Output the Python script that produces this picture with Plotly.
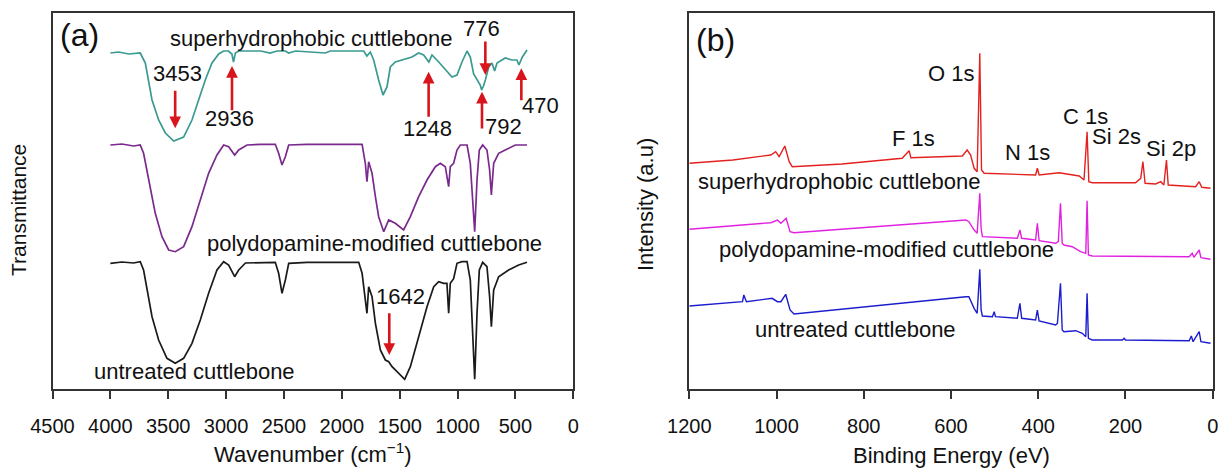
import plotly.graph_objects as go

# ---------------- Panel (a): FTIR spectra (wavenumber, transmittance a.u.) ----------------
sh_wn = [4000, 3930, 3840, 3742, 3698, 3669, 3640, 3583, 3525, 3453, 3367, 3295, 3237, 3180, 3122,
         3064, 3021, 2980, 2950, 2936, 2920, 2890, 2700, 2620, 2560, 2488, 2459, 2400, 2143, 2100,
         1811, 1783, 1754, 1725, 1682, 1644, 1610, 1581, 1538, 1480, 1394, 1336, 1293, 1248, 1221,
         1163, 1106, 1048, 1005, 962, 918, 890, 861, 832, 804, 792, 776, 760, 731, 703, 680, 659,
         588, 530, 487, 470, 440, 400]
sh_T = [336, 337, 335, 336, 326, 309, 289, 269, 256, 248, 252, 269, 289, 309, 326,
        335, 338, 338, 335, 327, 336, 338, 338, 336, 338, 338, 336, 338, 336, 338,
        338, 333, 337, 329, 309, 294, 302, 322, 327, 329, 332, 336, 334, 327, 334,
        327, 319, 312, 314, 327, 338, 332, 315, 309, 304, 299, 303, 309, 322, 326, 318, 326,
        331, 329, 329, 324, 332, 339]

pd_wn = [4000, 3900, 3800, 3742, 3713, 3684, 3655, 3612, 3554, 3496, 3439, 3367, 3295, 3223, 3151,
         3079, 3021, 2978, 2926, 2891, 2819, 2700, 2575, 2546, 2517, 2488, 2459, 2300, 1825, 1797,
         1783, 1768, 1739, 1710, 1682, 1638, 1595, 1538, 1466, 1408, 1336, 1264, 1192, 1149, 1106,
         1077, 1063, 1034, 1005, 976, 918, 890, 869, 852, 832, 812, 783, 746, 723, 708, 688, 645,
         588, 501, 400]
pd_T = [244, 245, 243, 244, 235.7, 219, 199, 175.7, 152.3, 139, 137.3, 142.3, 162.3, 189, 215.7,
        234, 244, 242.3, 234, 239, 244, 244.7, 244.7, 235.7, 224, 232.3, 244, 244.7, 244.7, 225.7,
        207.3, 227.3, 215.7, 192.3, 172.3, 157.3, 169, 165.7, 159, 172.3, 192.3, 209, 222.3, 225.7, 222.3,
        202.3, 222.3, 225.7, 239, 244, 244, 225.7, 192.3, 157.3, 209, 239, 244, 239, 219, 194, 225.7, 235.7,
        239, 244, 244]

un_wn = [4000, 3900, 3800, 3742, 3713, 3684, 3640, 3583, 3511, 3439, 3367, 3295, 3223, 3151, 3079,
         3021, 2978, 2926, 2891, 2833, 2700, 2575, 2546, 2517, 2488, 2459, 2300, 1854, 1825, 1797,
         1783, 1768, 1739, 1710, 1667, 1624, 1595, 1566, 1509, 1457, 1408, 1336, 1264, 1206, 1163,
         1120, 1092, 1077, 1063, 1034, 1005, 962, 918, 890, 869, 852, 832, 812, 783, 746, 723, 708,
         688, 645, 559, 472, 400]
un_T = [125.7, 127, 126, 127.3, 119, 99, 72.3, 49, 30.7, 25.7, 30.7, 45.7, 69, 95.7, 119,
        127.3, 124, 112.3, 119, 126, 126.7, 126.7, 115.7, 95.7, 109, 125.7, 126.7, 126.7, 115.7, 92.3,
        75.7, 102.3, 92.3, 65.7, 39, 29, 27.3, 22.3, 15.7, 9.7, 22.3, 52.3, 82.3, 102.3, 107.3,
        105.7, 105.7, 75.7, 105.7, 110.3, 125.7, 127.3, 127.3, 109, 59, 9.7, 75.7, 119, 126.7, 122.3, 92.3, 62.3,
        99, 112.3, 119, 124, 126.7]

# ---------------- Panel (b): XPS survey spectra (binding energy, intensity a.u.) ----------------
sh_be = [1200, 1100, 1013, 1002, 994, 981, 971, 964, 850, 712, 696, 692, 574, 563, 555, 547, 540,
         534, 530, 524, 406, 402, 398, 352, 306, 295, 288, 284, 276, 177, 165, 160, 155, 131, 119,
         112, 106, 102, 39, 31, 25, 5]
sh_I = [225.7, 229, 234, 237.3, 232.3, 243, 227.3, 222.3, 225, 230.7, 238.3, 231.3, 233, 239, 234, 220.7, 217.3,
        335.7, 219, 215.7, 214, 220.7, 214, 216.3, 213, 209, 257.3, 207.3, 206.3, 206.3, 210.7, 227.3, 205.7, 205, 207.3,
        204, 229, 204, 202.3, 207.3, 201.7, 200.7]

pd_be = [1200, 1013, 998, 990, 978, 969, 960, 566, 559, 547, 540, 534, 531, 528, 448, 442, 438,
         406, 402, 398, 360, 354, 349, 345, 341, 322, 303, 291, 288, 285, 276, 54, 47, 43, 31, 27, 5]
pd_I = [159.7, 166.3, 169, 165.7, 170.7, 157.3, 156.3, 169, 167.3, 159, 155.7, 195.7, 160.7, 152.3, 150.7, 159, 150.7,
        149, 165.7, 148.3, 145.7, 147.3, 185.7, 145.7, 144, 142.3, 137.3, 135.7, 188.3, 134, 133, 132.3, 135.7, 131.7,
        139, 131.3, 129.7]

un_be = [1200, 1078, 1075, 1069, 1010, 998, 990, 979, 969, 960, 566, 559, 547, 540, 534, 531, 528,
         505, 501, 498, 448, 442, 438, 406, 402, 398, 360, 356, 349, 345, 341, 314, 299, 291, 288, 285,
         276, 207, 203, 200, 54, 49, 45, 31, 27, 5]
un_I = [83, 87.3, 94, 87.3, 90.7, 87.3, 87.3, 94.7, 79, 75, 92.3, 92.3, 80.7, 75.7, 119.7, 79, 73,
        72.3, 77.3, 72.3, 70.7, 85.7, 70.7, 69, 79, 68, 64, 65.7, 105.7, 59, 57.3, 58.3, 55.7, 52.3, 95.7, 50.7,
        49, 49, 50.7, 49, 48.3, 53, 47.3, 57.3, 47.3, 45.7]

ftir_ticks = [4500, 4000, 3500, 3000, 2500, 2000, 1500, 1000, 500, 0]
xps_ticks = [1200, 1000, 800, 600, 400, 200, 0]

FONT = "Liberation Sans, Arial, sans-serif"
TEAL = "#3a9a90"
PURPLE = "#7a2a8c"
BLACK = "#1a1a1a"
RED_X = "#e3211e"
MAGENTA = "#e022e0"
BLUE = "#1c1ccf"
ARROW = "#d8141c"
W, H = 1220, 468


def fx(px):
    """page pixel x -> paper fraction"""
    return px / W


def fy(py):
    """page pixel y -> paper fraction"""
    return (H - py) / H


fig = go.Figure()
fig.add_trace(go.Scatter(x=sh_wn, y=sh_T, mode="lines", line=dict(color=TEAL, width=1.7), xaxis="x", yaxis="y"))
fig.add_trace(go.Scatter(x=pd_wn, y=pd_T, mode="lines", line=dict(color=PURPLE, width=1.7), xaxis="x", yaxis="y"))
fig.add_trace(go.Scatter(x=un_wn, y=un_T, mode="lines", line=dict(color=BLACK, width=1.7), xaxis="x", yaxis="y"))
fig.add_trace(go.Scatter(x=sh_be, y=sh_I, mode="lines", line=dict(color=RED_X, width=1.4), xaxis="x2", yaxis="y2"))
fig.add_trace(go.Scatter(x=pd_be, y=pd_I, mode="lines", line=dict(color=MAGENTA, width=1.4), xaxis="x2", yaxis="y2"))
fig.add_trace(go.Scatter(x=un_be, y=un_I, mode="lines", line=dict(color=BLUE, width=1.4), xaxis="x2", yaxis="y2"))

ydom = [fy(389), fy(12.5)]
axis_common = dict(showline=True, mirror=True, linecolor="#333", linewidth=2, showgrid=False,
                   zeroline=False, automargin=False)

fig.update_layout(
    width=W, height=H, margin=dict(l=0, r=0, t=0, b=0, autoexpand=False),
    paper_bgcolor="white", plot_bgcolor="white", showlegend=False,
    font=dict(family=FONT, color="#111"),
    xaxis=dict(domain=[fx(52.5), fx(573.3)], range=[4500, 0], anchor="y",
               tickmode="array", tickvals=ftir_ticks, ticktext=[str(t) for t in ftir_ticks],
               ticks="outside", ticklen=8, tickwidth=2, tickcolor="#333",
               tickfont=dict(size=20, family=FONT, color="#111"), ticklabelstandoff=10, **axis_common),
    yaxis=dict(domain=ydom, range=[0, 376.5], anchor="x", showticklabels=False, ticks="", **axis_common),
    xaxis2=dict(domain=[fx(689.3), fx(1212.7)], range=[1200, 0], anchor="y2",
                tickmode="array", tickvals=xps_ticks, ticktext=[str(t) for t in xps_ticks],
                ticks="outside", ticklen=8, tickwidth=2, tickcolor="#333",
                tickfont=dict(size=20, family=FONT, color="#111"), ticklabelstandoff=10, **axis_common),
    yaxis2=dict(domain=ydom, range=[0, 376.5], anchor="x2", showticklabels=False, ticks="", **axis_common),
)

ann = []


def txt(x, y, s, size=22, xr="x", yr="y"):
    ann.append(dict(x=x, y=y, xref=xr, yref=yr, text=s, showarrow=False,
                    xanchor="center", yanchor="middle",
                    font=dict(family=FONT, size=size, color="#111")))


def arrow(hx, hy, tx, ty):
    ann.append(dict(x=hx, y=hy, ax=tx, ay=ty, xref="x", yref="y", axref="x", ayref="y",
                    text="", showarrow=True, arrowhead=2, arrowsize=0.9, arrowwidth=2.6,
                    arrowcolor=ARROW, standoff=0, startstandoff=0))


# Panel (a) texts
txt(4271, 354, "(a)", size=32)
txt(2266, 351, "superhydrophobic cuttlebone")
txt(1720, 145.7, "polydopamine-modified cuttlebone")
txt(3272, 17.3, "untreated cuttlebone")
txt(3416, 315.7, "3453")
txt(2969, 270.7, "2936")
txt(1258, 260.7, "1248")
txt(789, 361, "776")
txt(601, 262.3, "792")
txt(285, 284, "470")
txt(1495, 92.3, "1642")

# Panel (a) arrows (head, tail)
arrow(3440, 260.7, 3440, 299.7)
arrow(2949, 323, 2949, 277.3)
arrow(1250, 317.3, 1250, 270.7)
arrow(760, 314, 760, 349)
arrow(789, 297.3, 789, 259)
arrow(449, 320.7, 449, 287.3)
arrow(1590, 34, 1590, 77.3)

# Panel (b) texts
txt(1139.5, 349, "(b)", size=32, xr="x2", yr="y2")
txt(601, 315.7, "O 1s", xr="x2", yr="y2")
txt(685, 250.7, "F 1s", xr="x2", yr="y2")
txt(425, 236.3, "N 1s", xr="x2", yr="y2")
txt(291, 273, "C 1s", xr="x2", yr="y2")
txt(220, 252.3, "Si 2s", xr="x2", yr="y2")
txt(96, 240.7, "Si 2p", xr="x2", yr="y2")
txt(855, 207.3, "superhydrophobic cuttlebone", xr="x2", yr="y2")
txt(748, 139.7, "polydopamine-modified cuttlebone", xr="x2", yr="y2")
txt(818, 59.7, "untreated cuttlebone", xr="x2", yr="y2")

# Axis titles
ann.append(dict(x=fx(313), y=fy(453), xref="paper", yref="paper", showarrow=False,
                text="Wavenumber (cm<sup>\u22121</sup>)", xanchor="center", yanchor="middle",
                font=dict(family=FONT, size=22, color="#111")))
ann.append(dict(x=fx(951), y=fy(455), xref="paper", yref="paper", showarrow=False,
                text="Binding Energy (eV)", xanchor="center", yanchor="middle",
                font=dict(family=FONT, size=22, color="#111")))
ann.append(dict(x=fx(19), y=fy(210), xref="paper", yref="paper", showarrow=False,
                text="Transmittance", textangle=-90, xanchor="center", yanchor="middle",
                font=dict(family=FONT, size=21, color="#111")))
ann.append(dict(x=fx(645), y=fy(205), xref="paper", yref="paper", showarrow=False,
                text="Intensity (a.u)", textangle=-90, xanchor="center", yanchor="middle",
                font=dict(family=FONT, size=22, color="#111")))

fig.update_layout(annotations=ann)
fig.write_html(
    "out.html",
    config={"displayModeBar": False},
    post_script="document.body.style.margin='0';document.body.style.overflow='hidden';"
                "document.documentElement.style.overflow='hidden';",
)
